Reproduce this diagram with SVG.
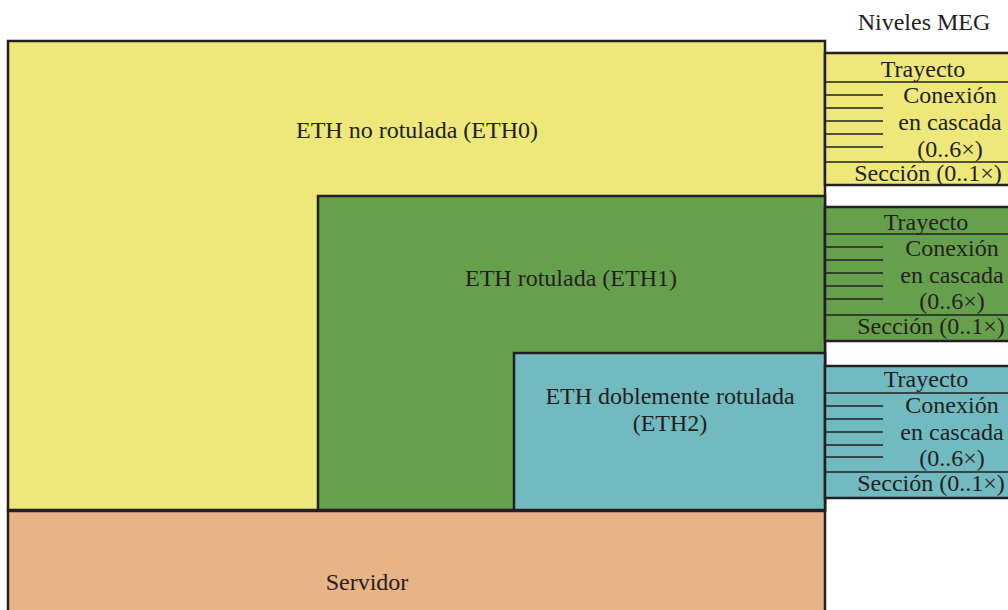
<svg xmlns="http://www.w3.org/2000/svg" width="1008" height="610" viewBox="0 0 1008 610">
  <style>
    .box { stroke: #231f20; stroke-width: 2.5; }
    .ln { stroke: #231f20; stroke-width: 1.5; fill: none; }
    .y { fill: #eee87a; }
    .g { fill: #67a04c; }
    .b { fill: #70bac0; }
    .o { fill: #e8b386; }
    text { font-family: "Liberation Serif", "Times New Roman", serif !important; font-size: 24px; fill: #231f20; text-anchor: middle; }
  </style>
  <rect width="1008" height="610" fill="#ffffff"/>

  <text x="924" y="30" style="font-family:'Liberation Serif',serif">Niveles MEG</text>

  <!-- Layer regions -->
  <g id="eth0">
    <rect class="box y" x="8" y="41" width="817" height="469"/>
    <text x="417" y="138" style="font-family:'Liberation Serif',serif">ETH no rotulada (ETH0)</text>
  </g>
  <g id="eth1">
    <rect class="box g" x="318" y="196" width="507" height="314"/>
    <text x="571" y="286" style="font-family:'Liberation Serif',serif">ETH rotulada (ETH1)</text>
  </g>
  <g id="eth2">
    <rect class="box b" x="514" y="353" width="311" height="157"/>
    <text x="670" y="404" style="font-family:'Liberation Serif',serif">ETH doblemente rotulada</text>
    <text x="670" y="431" style="font-family:'Liberation Serif',serif">(ETH2)</text>
  </g>
  <g id="servidor">
    <rect class="box o" x="8" y="511" width="817" height="102"/>
    <text x="367" y="590" style="font-family:'Liberation Serif',serif">Servidor</text>
  </g>

  <!-- MEG level panels -->
  <g id="meg-eth0">
    <rect class="box y" x="825" y="53" width="186" height="132"/>
    <path class="ln" d="M825 82H1010M825 162H1010M825 95H883M825 108H883M825 121H883M825 134H883M825 147H883"/>
    <text x="923" y="77" style="font-family:'Liberation Serif',serif">Trayecto</text>
    <text x="950" y="103" style="font-family:'Liberation Serif',serif">Conexión</text>
    <text x="950" y="130" style="font-family:'Liberation Serif',serif">en cascada</text>
    <text x="950" y="157" style="font-family:'Liberation Serif',serif">(0..6×)</text>
    <text x="928" y="181" style="font-family:'Liberation Serif',serif">Sección (0..1×)</text>
  </g>
  <g id="meg-eth1">
    <rect class="box g" x="825" y="207" width="186" height="134"/>
    <path class="ln" d="M825 234H1010M825 315H1010M825 247H883M825 260H883M825 273H883M825 286H883M825 299H883"/>
    <text x="926" y="230" style="font-family:'Liberation Serif',serif">Trayecto</text>
    <text x="952" y="256" style="font-family:'Liberation Serif',serif">Conexión</text>
    <text x="952" y="283" style="font-family:'Liberation Serif',serif">en cascada</text>
    <text x="952" y="309" style="font-family:'Liberation Serif',serif">(0..6×)</text>
    <text x="931" y="334" style="font-family:'Liberation Serif',serif">Sección (0..1×)</text>
  </g>
  <g id="meg-eth2">
    <rect class="box b" x="825" y="366" width="186" height="132"/>
    <path class="ln" d="M825 393H1010M825 472H1010M825 406H883M825 419H883M825 432H883M825 445H883M825 457H883"/>
    <text x="926" y="387" style="font-family:'Liberation Serif',serif">Trayecto</text>
    <text x="952" y="413" style="font-family:'Liberation Serif',serif">Conexión</text>
    <text x="952" y="440" style="font-family:'Liberation Serif',serif">en cascada</text>
    <text x="952" y="466" style="font-family:'Liberation Serif',serif">(0..6×)</text>
    <text x="931" y="491" style="font-family:'Liberation Serif',serif">Sección (0..1×)</text>
  </g>

  <g id="connectors"></g>
</svg>
